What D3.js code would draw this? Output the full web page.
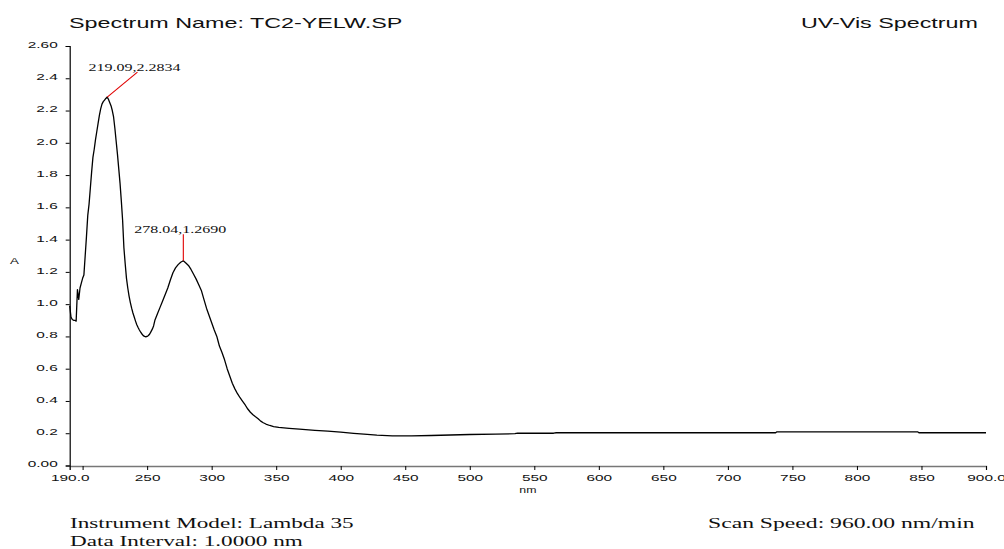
<!DOCTYPE html>
<html>
<head>
<meta charset="utf-8">
<script src="https://cdn.jsdelivr.net/npm/d3@7/dist/d3.min.js"></script>
<style>
  html, body { margin: 0; padding: 0; background: #fff; }
  svg { display: block; }
</style>
</head>
<body>
<svg id="chart" width="1004" height="549"></svg>
<script>
// Absorbance spectrum of sample TC2-YELW, Lambda 35 scan
const wavelengths = [
  190, 191, 192, 193, 194, 195, 196, 197, 198, 199, 200, 201, 202, 203, 204, 205,
  206, 207, 208, 209, 210, 211, 212, 213, 214, 215, 216, 217, 218, 219.09, 220, 221,
  222, 223, 224, 225, 226, 227, 228, 229, 230, 231, 232, 233, 234, 235, 236, 237,
  238, 239, 240, 241, 242, 243, 244, 245, 246, 247, 248, 249, 250, 251, 252, 253,
  254, 255, 256, 258, 260, 262, 264, 266, 268, 270, 272, 274, 276, 278.04, 280, 282,
  284, 286, 288, 290, 292, 294, 296, 298, 300, 302, 304, 305, 306, 308, 310, 312,
  314, 316, 318, 320, 322, 324, 326, 328, 330, 332, 334, 336, 338, 340, 342, 345,
  348, 352, 356, 360, 368, 380, 390, 400, 410, 418, 428, 440, 455, 470, 485, 500,
  520, 535, 537, 565, 567, 737, 738, 847, 848, 900
];
const absorbance = [
  0.99, 0.92, 0.905, 0.90, 0.90, 0.895, 1.09, 1.03, 1.10, 1.13, 1.16, 1.18, 1.30, 1.42, 1.55, 1.62,
  1.72, 1.82, 1.91, 1.96, 2.02, 2.07, 2.12, 2.17, 2.21, 2.24, 2.255, 2.265, 2.275, 2.2834, 2.27, 2.25,
  2.23, 2.20, 2.16, 2.09, 2.01, 1.93, 1.84, 1.75, 1.64, 1.52, 1.35, 1.25, 1.16, 1.10, 1.05, 1.01,
  0.975, 0.945, 0.92, 0.895, 0.872, 0.855, 0.84, 0.826, 0.815, 0.805, 0.80, 0.798, 0.80, 0.806, 0.815, 0.83,
  0.845, 0.865, 0.90, 0.94, 0.98, 1.02, 1.06, 1.10, 1.15, 1.195, 1.225, 1.245, 1.26, 1.269, 1.255, 1.24,
  1.215, 1.185, 1.155, 1.12, 1.085, 1.03, 0.975, 0.93, 0.885, 0.84, 0.80, 0.77, 0.74, 0.70, 0.655, 0.60,
  0.555, 0.51, 0.475, 0.445, 0.42, 0.398, 0.375, 0.35, 0.33, 0.315, 0.302, 0.29, 0.275, 0.265, 0.257, 0.248,
  0.241, 0.236, 0.233, 0.23, 0.225, 0.218, 0.213, 0.207, 0.199, 0.194, 0.188, 0.183, 0.184, 0.186, 0.189, 0.192,
  0.195, 0.197, 0.200, 0.200, 0.203, 0.203, 0.209, 0.209, 0.203, 0.203
];

// Axis ticks and their printed labels
const yTicks = [0, 0.2, 0.4, 0.6, 0.8, 1.0, 1.2, 1.4, 1.6, 1.8, 2.0, 2.2, 2.4, 2.6];
const yTickLabels = ["0.00", "0.2", "0.4", "0.6", "0.8", "1.0", "1.2", "1.4", "1.6", "1.8", "2.0", "2.2", "2.4", "2.60"];
const xTicks = [190, 200, 250, 300, 350, 400, 450, 500, 550, 600, 650, 700, 750, 800, 850, 900];
const xTickLabels = ["190.0", "", "250", "300", "350", "400", "450", "500", "550", "600", "650", "700", "750", "800", "850", "900.0"];

// Peak picks: wavelength, absorbance, leader end point (nm, A)
const peakNm = [219.09, 278.04];
const peakA = [2.2834, 1.2690];
const leaderNm = [242.5, 278.04];
const leaderA = [2.438, 1.433];

const headerLeft = "Spectrum Name: TC2-YELW.SP";
const headerRight = "UV-Vis Spectrum";
const footerLeft = ["Instrument Model: Lambda 35", "Data Interval: 1.0000 nm"];
const footerRight = "Scan Speed: 960.00 nm/min";

const svg = d3.select("#chart");
const sans = "'Liberation Sans', Arial, sans-serif";
const serif = "'Liberation Serif', 'Times New Roman', serif";
const WIDE = 1.62;   // horizontal stretch of the printed lettering

const x = d3.scaleLinear().domain([190, 900]).range([69.7, 986]);
const y = d3.scaleLinear().domain([0, 2.6]).range([465.5, 46]);

function widen(sel, k) {
  sel.each(function () {
    const w = this.getComputedTextLength();
    d3.select(this).attr("textLength", w * k).attr("lengthAdjust", "spacingAndGlyphs");
  });
  return sel;
}

// x axis
const xAxis = svg.append("g").attr("transform", `translate(0,${y(0) + 0.5})`)
  .call(d3.axisBottom(x).tickValues(xTicks).tickSize(4).tickPadding(5)
    .tickFormat((d, i) => xTickLabels[i]));
xAxis.select(".domain").attr("stroke", "#777").attr("stroke-width", 1.3);
xAxis.selectAll(".tick line").attr("stroke", "#000");
xAxis.selectAll(".tick text").attr("font-family", sans).attr("font-size", 9.5).attr("fill", "#111")
  .attr("dy", "0.6em")
  .each(function () { widen(d3.select(this), WIDE); });

// y axis
const yAxis = svg.append("g").attr("transform", `translate(${x(190)},0)`)
  .call(d3.axisLeft(y).tickValues(yTicks).tickSize(4).tickPadding(8)
    .tickFormat((d, i) => yTickLabels[i]));
yAxis.select(".domain").attr("stroke", "#000").attr("stroke-width", 1.2);
yAxis.selectAll(".tick line").attr("stroke", "#000");
yAxis.selectAll(".tick text").attr("font-family", sans).attr("font-size", 9.5).attr("fill", "#111")
  .attr("dy", "0.15em")
  .each(function () { widen(d3.select(this), WIDE); });

// axis titles
widen(svg.append("text").attr("x", 14.5).attr("y", 264).attr("text-anchor", "middle")
  .attr("font-family", sans).attr("font-size", 9.5).attr("fill", "#111").text("A"), 1.4);
widen(svg.append("text").attr("x", (x(190) + x(900)) / 2).attr("y", 493).attr("text-anchor", "middle")
  .attr("font-family", sans).attr("font-size", 8.5).attr("fill", "#111").text("nm"), 1.45);

// spectrum trace
const pts = wavelengths.map((w, i) => [w, absorbance[i]]);
svg.append("path").datum(pts)
  .attr("fill", "none").attr("stroke", "#000").attr("stroke-width", 1.3)
  .attr("stroke-linejoin", "round")
  .attr("d", d3.line().x(d => x(d[0])).y(d => y(d[1])));

// peak leaders and labels
peakNm.forEach((p, i) => {
  svg.append("line")
    .attr("x1", x(p)).attr("y1", y(peakA[i]))
    .attr("x2", x(leaderNm[i])).attr("y2", y(leaderA[i]))
    .attr("stroke", "#e00000").attr("stroke-width", 1.1);
  widen(svg.append("text")
    .attr("x", x(leaderNm[i]) - 3).attr("y", y(leaderA[i]) - 1.5)
    .attr("text-anchor", "middle")
    .attr("font-family", serif).attr("font-size", 10).attr("fill", "#111")
    .text(`${p.toFixed(2)},${peakA[i].toFixed(4)}`), 1.6);
});

// header
widen(svg.append("text").attr("x", 69).attr("y", 27.5).attr("font-family", sans)
  .attr("font-size", 14.4).attr("fill", "#111").text(headerLeft), WIDE);
widen(svg.append("text").attr("x", 978).attr("y", 27.5).attr("font-family", sans)
  .attr("text-anchor", "end").attr("font-size", 14.4).attr("fill", "#111").text(headerRight), WIDE);

// footer
footerLeft.forEach((t, i) => {
  widen(svg.append("text").attr("x", 70).attr("y", 528 + i * 18).attr("font-family", serif)
    .attr("font-size", 14.3).attr("fill", "#111").text(t), WIDE);
});
widen(svg.append("text").attr("x", 708).attr("y", 528).attr("font-family", serif)
  .attr("font-size", 14.6).attr("fill", "#111").text(footerRight), WIDE);
</script>
</body>
</html>
